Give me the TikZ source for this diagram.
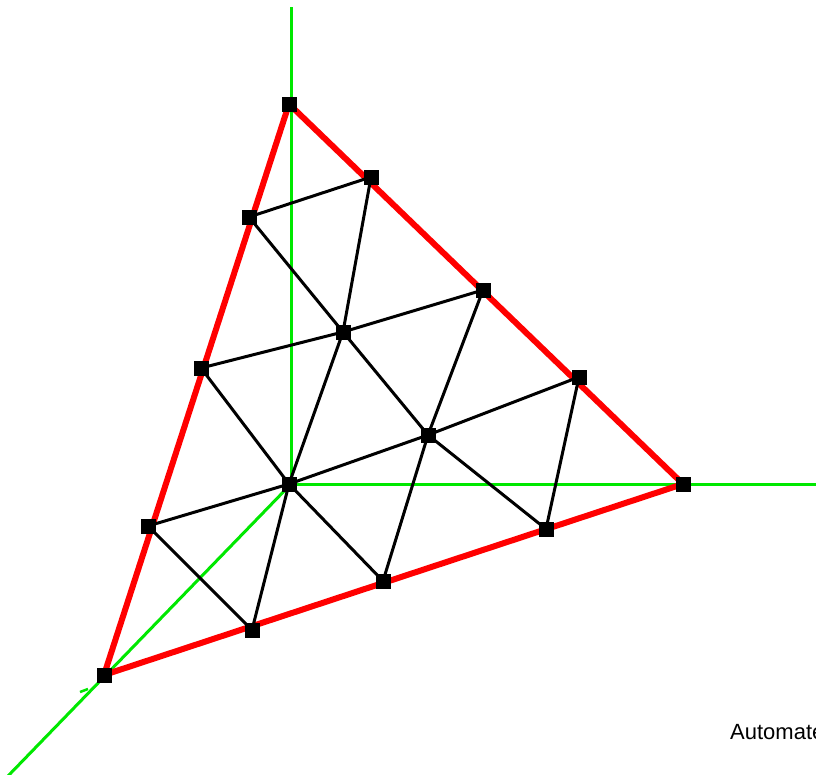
\documentclass[tikz,border=0pt]{standalone}
\usepackage{fontspec}
\setmainfont{Liberation Sans}
\definecolor{axisgreen}{RGB}{0,232,0}
\begin{document}
\begin{tikzpicture}[x=1pt,y=-1pt,
  axis/.style={draw=axisgreen,line width=3pt},
  edge/.style={draw=red,line width=6pt,line join=round},
  mesh/.style={draw=black,line width=3pt},
  pt/.style={rectangle,fill=black,minimum size=15pt,inner sep=0pt}]
\useasboundingbox (0,0) rectangle (816,774);
% axis ends
\coordinate (ytop) at (291,7);
\coordinate (xend) at (818,484);
\coordinate (zend) at (7,777);
\coordinate (o) at (291,484);
\coordinate (tk1) at (88,689);
\coordinate (tk2) at (80,692);
\draw[axis] (o) -- (ytop);
\draw[axis] (o) -- (xend);
\draw[axis] (o) -- (zend);
\draw[axis,line width=2.5pt] (tk1) -- (tk2);
% nodes
\node[pt] (A) at (289,104) {};
\node[pt] (B) at (683,484) {};
\node[pt] (C) at (104,675) {};
\node[pt] (O) at (289,484) {};
\node[pt] (L1) at (249,217) {};
\node[pt] (L2) at (201,368) {};
\node[pt] (L3) at (148,526) {};
\node[pt] (R1) at (371,177) {};
\node[pt] (R2) at (483,290) {};
\node[pt] (R3) at (579,377) {};
\node[pt] (M1) at (252,630) {};
\node[pt] (M2) at (383,581) {};
\node[pt] (M3) at (546,529) {};
\node[pt] (P) at (343,332) {};
\node[pt] (Q) at (428,435) {};
% red boundary
\draw[edge] (A.center) -- (B.center) -- (C.center) -- cycle;
% mesh
\draw[mesh] (L1.center) -- (R1.center);
\draw[mesh] (L1.center) -- (P.center);
\draw[mesh] (R1.center) -- (P.center);
\draw[mesh] (L2.center) -- (P.center);
\draw[mesh] (P.center) -- (R2.center);
\draw[mesh] (L2.center) -- (O.center);
\draw[mesh] (P.center) -- (O.center);
\draw[mesh] (P.center) -- (Q.center);
\draw[mesh] (R2.center) -- (Q.center);
\draw[mesh] (L3.center) -- (O.center);
\draw[mesh] (O.center) -- (Q.center);
\draw[mesh] (Q.center) -- (R3.center);
\draw[mesh] (R3.center) -- (M3.center);
\draw[mesh] (Q.center) -- (M3.center);
\draw[mesh] (Q.center) -- (M2.center);
\draw[mesh] (O.center) -- (M2.center);
\draw[mesh] (O.center) -- (M1.center);
\draw[mesh] (L3.center) -- (M1.center);
% redraw squares on top
\foreach \n in {A,B,C,O,L1,L2,L3,R1,R2,R3,M1,M2,M3,P,Q}
  \fill[black] ([xshift=-7.5pt,yshift=7.5pt]\n.center) rectangle ([xshift=7.5pt,yshift=-7.5pt]\n.center);
\node[anchor=base west,inner sep=0pt,font=\fontsize{22}{26}\selectfont] (lbl) at (730,739) {Automate};
\end{tikzpicture}
\end{document}
